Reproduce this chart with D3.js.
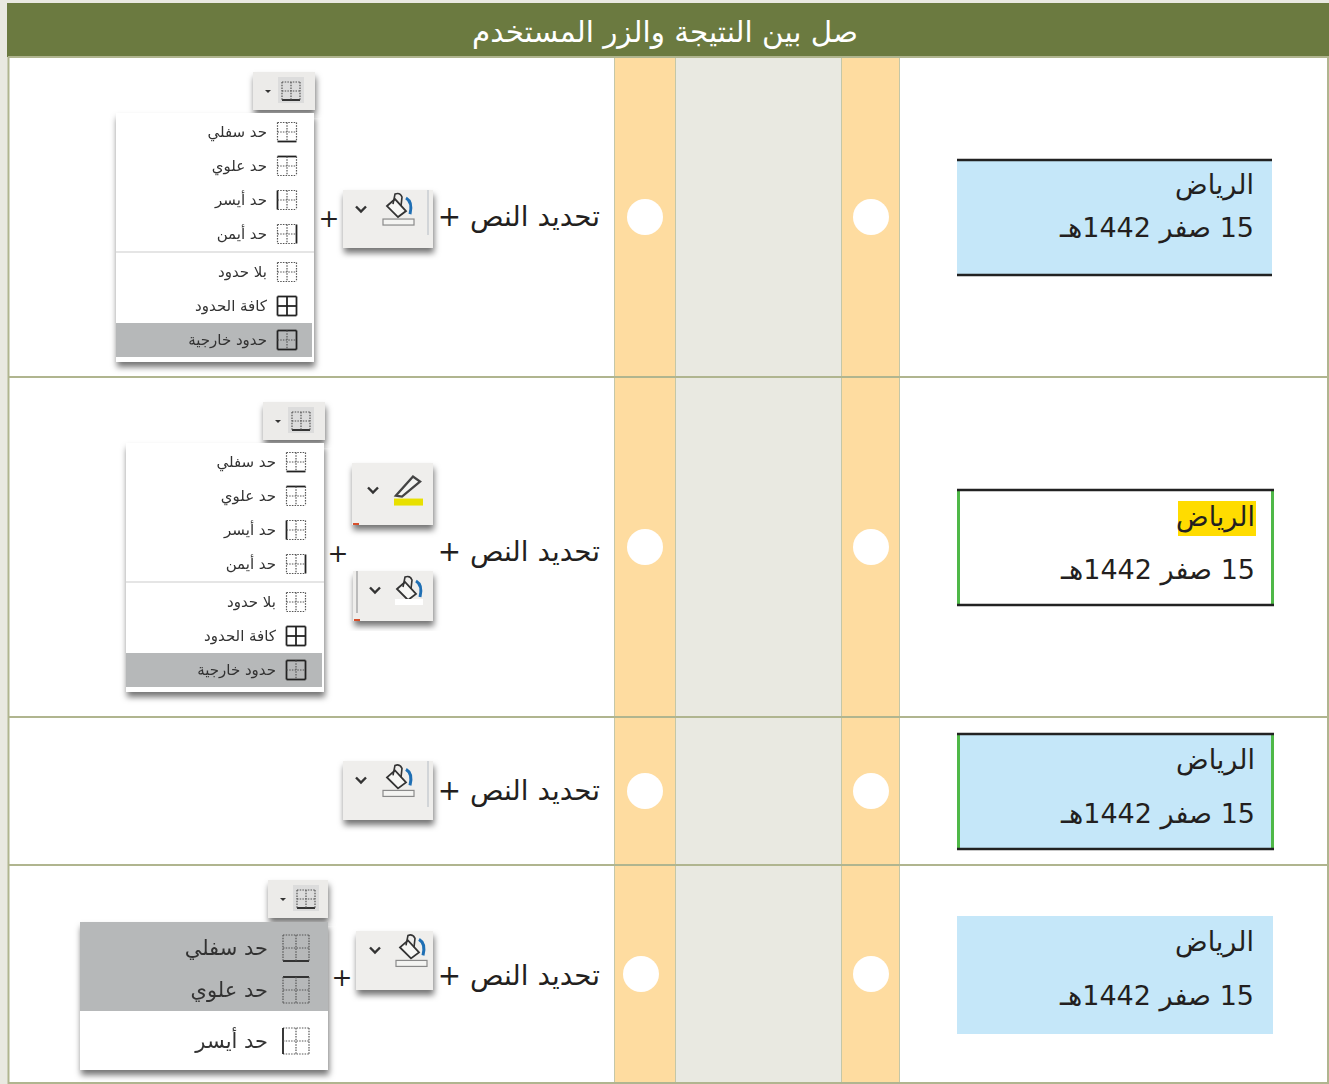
<!DOCTYPE html>
<html lang="ar">
<head>
<meta charset="utf-8">
<script src="https://cdn.jsdelivr.net/npm/d3@7/dist/d3.min.js"></script>
<style>
  html, body { margin: 0; padding: 0; background: #fff; }
  svg { display: block; }
  text { font-family: "DejaVu Sans", sans-serif; }
  .rtl { direction: rtl; text-anchor: start; }
</style>
</head>
<body>
<div id="sheet"></div>
<script>
const title = 'صل بين النتيجة والزر المستخدم';
const cities = ['الرياض', 'الرياض', 'الرياض', 'الرياض'];
const dates = ['15 صفر 1442هـ', '15 صفر 1442هـ', '15 صفر 1442هـ', '15 صفر 1442هـ'];
const stepLabels = ['تحديد النص +', 'تحديد النص +', 'تحديد النص +', 'تحديد النص +'];
const fullMenu = ['حد سفلي', 'حد علوي', 'حد أيسر', 'حد أيمن', 'بلا حدود', 'كافة الحدود', 'حدود خارجية'];
const fullMenuSides = ['bottom', 'top', 'left', 'right', 'none', 'all', 'outer'];
const shortMenu = ['حد سفلي', 'حد علوي', 'حد أيسر'];
const shortMenuSides = ['bottom', 'top', 'left'];

const W = 1329, H = 1084;
const rowEdges = [57, 377, 717, 865, 1083];

const svg = d3.select('#sheet').append('svg')
  .attr('width', W)
  .attr('height', H)
  .attr('viewBox', `0 0 ${W} ${H}`);

const defs = svg.append('defs');
const shadow = defs.append('filter').attr('id', 'shadow')
  .attr('x', '-15%').attr('y', '-15%').attr('width', '130%').attr('height', '135%');
shadow.append('feDropShadow')
  .attr('dx', 1).attr('dy', 5).attr('stdDeviation', 3.2)
  .attr('flood-color', '#000').attr('flood-opacity', 0.55);
const soft = defs.append('filter').attr('id', 'soft');
soft.append('feGaussianBlur').attr('stdDeviation', 0.4);

// page and columns
svg.append('rect').attr('width', W).attr('height', H).attr('fill', '#e9e9e1');
svg.append('rect').attr('x', 8).attr('y', 57).attr('width', W - 8).attr('height', H - 58).attr('fill', '#fff');
svg.append('rect').attr('x', 7).attr('y', 3).attr('width', W - 7).attr('height', 54).attr('fill', '#6b7a40');

const columns = [
  { x: 615, w: 60, fill: '#fedca0' },
  { x: 675, w: 166, fill: '#e9e9e1' },
  { x: 841, w: 58, fill: '#fedca0' }
];
svg.selectAll('.col').data(columns).enter().append('rect')
  .attr('class', 'col')
  .attr('x', d => d.x).attr('y', 57)
  .attr('width', d => d.w).attr('height', H - 58)
  .attr('fill', d => d.fill);

svg.selectAll('.vline').data([614.5, 675.5, 841.5, 899.5]).enter().append('line')
  .attr('class', 'vline')
  .attr('x1', d => d).attr('x2', d => d)
  .attr('y1', 57).attr('y2', H)
  .attr('stroke', '#c4c7a8').attr('stroke-width', 1);

svg.selectAll('.hline').data(rowEdges).enter().append('line')
  .attr('class', 'hline')
  .attr('x1', 8).attr('x2', W)
  .attr('y1', d => d).attr('y2', d => d)
  .attr('stroke', '#b0b58f').attr('stroke-width', 2);
svg.selectAll('.edge').data([8.5, 1328]).enter().append('line')
  .attr('class', 'edge')
  .attr('x1', d => d).attr('x2', d => d).attr('y1', 57).attr('y2', H)
  .attr('stroke', '#b0b58f').attr('stroke-width', 2);

svg.append('text').attr('class', 'rtl')
  .attr('x', 858).attr('y', 42)
  .attr('font-size', 29.4).attr('fill', '#fff')
  .text(title);

// the date cards, right hand column
const cards = [
  { y: 160, h: 115, w: 315, fill: '#c5e7f9', dark: true, green: false, textX: 1254, cityY: 194, dateY: 237 },
  { y: 490, h: 115, w: 317, fill: '#fff', dark: true, green: true, mark: true, textX: 1255, cityY: 526, dateY: 579 },
  { y: 734, h: 115, w: 317, fill: '#c5e7f9', dark: true, green: true, textX: 1255, cityY: 769, dateY: 823 },
  { y: 916, h: 118, w: 316, fill: '#c5e7f9', dark: false, green: false, textX: 1254, cityY: 951, dateY: 1005 }
];

cards.forEach((c, i) => {
  const g = svg.append('g').attr('class', 'card');
  g.append('rect').attr('x', 957).attr('y', c.y).attr('width', c.w).attr('height', c.h).attr('fill', c.fill);
  if (c.green) {
    [958.5, 955.5 + c.w].forEach(x => {
      g.append('line').attr('x1', x).attr('x2', x).attr('y1', c.y).attr('y2', c.y + c.h)
        .attr('stroke', '#4fb848').attr('stroke-width', 3);
    });
  }
  if (c.dark) {
    [c.y, c.y + c.h].forEach(y => {
      g.append('line').attr('x1', 957).attr('x2', 957 + c.w).attr('y1', y).attr('y2', y)
        .attr('stroke', '#222').attr('stroke-width', 2.5);
    });
  }
  if (c.mark) {
    g.append('rect').attr('x', 1178).attr('y', 501).attr('width', 78).attr('height', 35).attr('fill', '#ffdc00');
  }
  g.append('text').attr('class', 'rtl')
    .attr('x', c.textX).attr('y', c.cityY)
    .attr('font-size', 27).attr('fill', '#231f20')
    .text(cities[i]);
  g.append('text').attr('class', 'rtl')
    .attr('x', c.textX).attr('y', c.dateY)
    .attr('font-size', 27).attr('fill', '#231f20')
    .text(dates[i]);
});

// answer dots
const dots = [
  { x: 645, y: 217 }, { x: 871, y: 217 },
  { x: 645, y: 547 }, { x: 871, y: 547 },
  { x: 645, y: 791 }, { x: 871, y: 791 },
  { x: 641, y: 974 }, { x: 871, y: 974 }
];
svg.selectAll('.dot').data(dots).enter().append('circle')
  .attr('class', 'dot')
  .attr('cx', d => d.x).attr('cy', d => d.y).attr('r', 18)
  .attr('fill', '#fff');

// step text
const stepY = [226, 561, 800, 985];
svg.selectAll('.step').data(stepLabels).enter().append('text')
  .attr('class', 'step rtl')
  .attr('x', 600)
  .attr('y', (d, i) => stepY[i])
  .attr('font-size', 27.8).attr('fill', '#231f20')
  .text(d => d);

function plus(x, y) {
  svg.append('text').attr('x', x).attr('y', y)
    .attr('text-anchor', 'middle')
    .attr('font-size', 25).attr('fill', '#231f20')
    .text('+');
}

function chevron(g, x, y, size) {
  g.append('path')
    .attr('d', `M${x - size} ${y - size * 0.5} L ${x} ${y + size * 0.5} L ${x + size} ${y - size * 0.5}`)
    .attr('fill', 'none').attr('stroke', '#333').attr('stroke-width', 2.4);
}

function bucket(g, x, y) {
  g.append('path')
    .attr('d', `M${x + 8} ${y - 13} Q ${x + 15} ${y - 9} ${x + 12} ${y + 3}`)
    .attr('fill', 'none').attr('stroke', '#1f6fb4').attr('stroke-width', 3);
  g.append('path')
    .attr('d', `M${x - 11} ${y - 5} L ${x - 3} ${y - 12} L ${x + 8} ${y} L ${x} ${y + 6} Z`)
    .attr('fill', '#f7f7f5').attr('stroke', '#333').attr('stroke-width', 1.8);
  // handle
  g.append('path')
    .attr('d', `M${x - 5} ${y - 7} L ${x - 3} ${y - 17} Q ${x + 2} ${y - 19} ${x + 4} ${y - 14} L ${x + 3} ${y - 5}`)
    .attr('fill', 'none').attr('stroke', '#333').attr('stroke-width', 1.6);
}

function fillButton(x, y, w, h, opt) {
  opt = opt || {};
  const g = svg.append('g');
  g.append('rect').attr('x', x).attr('y', y).attr('width', w).attr('height', h)
    .attr('fill', '#efeeec').attr('filter', 'url(#shadow)');
  const ix = x + 55;
  const iy = y + h * 0.38;
  chevron(g, x + 18 + (opt.shift || 0), y + (opt.highlighter ? 27 : 19), 5);
  if (opt.highlighter) {
    g.append('path')
      .attr('d', `M${ix - 11} ${iy + 9} L ${ix + 6} ${iy - 10} L ${ix + 13} ${iy - 5} L ${ix - 5} ${iy + 10} Z`)
      .attr('fill', '#f4f4f2').attr('stroke', '#444').attr('stroke-width', 2.4);
    g.append('rect').attr('x', ix - 13).attr('y', iy + 12).attr('width', 29).attr('height', 7).attr('fill', '#e8e000');
  } else if (opt.whiteBar) {
    bucket(g, ix, iy + 4);
    g.append('rect').attr('x', ix - 13).attr('y', iy + 9).attr('width', 28).attr('height', 6).attr('fill', '#fff');
  } else {
    bucket(g, ix, iy - 1);
    g.append('rect').attr('x', ix - 15).attr('y', iy + 7).attr('width', 31).attr('height', 6)
      .attr('fill', '#f4f4f2').attr('stroke', '#8a8a8a').attr('stroke-width', 1.2);
  }
  if (opt.divider) {
    g.append('line').attr('x1', x + 4).attr('x2', x + 4).attr('y1', y).attr('y2', y + h - 8)
      .attr('stroke', '#bbb').attr('stroke-width', 2);
  }
  if (opt.rightRule) {
    g.append('line').attr('x1', x + w - 5).attr('x2', x + w - 5).attr('y1', y).attr('y2', y + h - 13)
      .attr('stroke', '#c9cdd2').attr('stroke-width', 1.5);
  }
  if (opt.redMark) {
    g.append('rect').attr('x', x + 1).attr('y', y + h - 2).attr('width', 6).attr('height', 2).attr('fill', '#d8502c');
  }
}

// small table-border glyph, one or more sides solid and the rest dotted
function gridIcon(g, cx, cy, size, side) {
  const s = size / 2;
  const lines = [
    { k: 'top', a: [cx - s, cy - s, cx + s, cy - s] },
    { k: 'bottom', a: [cx - s, cy + s, cx + s, cy + s] },
    { k: 'left', a: [cx - s, cy - s, cx - s, cy + s] },
    { k: 'right', a: [cx + s, cy - s, cx + s, cy + s] },
    { k: 'inner', a: [cx, cy - s, cx, cy + s] },
    { k: 'inner', a: [cx - s, cy, cx + s, cy] }
  ];
  lines.forEach(l => {
    const solid = side === 'all' || l.k === side || (side === 'outer' && l.k !== 'inner');
    g.append('line')
      .attr('x1', l.a[0]).attr('y1', l.a[1]).attr('x2', l.a[2]).attr('y2', l.a[3])
      .attr('stroke', solid ? '#222' : '#555')
      .attr('stroke-width', solid ? 1.8 : 1.2)
      .attr('stroke-dasharray', solid ? null : '1.5 1.2');
  });
}

function topButton(x, y, w, h) {
  const g = svg.append('g');
  g.append('rect').attr('x', x).attr('y', y).attr('width', w).attr('height', h)
    .attr('fill', '#ecebe9').attr('filter', 'url(#shadow)');
  g.append('rect').attr('x', x + 25).attr('y', y + 5).attr('width', 26).attr('height', h - 12).attr('fill', '#dcdcdc');
  gridIcon(g, x + 38, y + 19, 18, 'bottom');
  g.append('path')
    .attr('d', `M${x + 12} ${y + 18} l 6 0 l -3 3 z`)
    .attr('fill', '#333');
}

function menu(m) {
  const g = svg.append('g');
  g.append('rect').attr('x', m.x).attr('y', m.y).attr('width', m.w).attr('height', m.h)
    .attr('fill', '#fff').attr('filter', 'url(#shadow)');
  const y = d3.scaleLinear().domain(m.domain).range(m.range);
  g.append('rect')
    .attr('x', m.x).attr('y', m.y + m.hiTop)
    .attr('width', m.hiW).attr('height', m.hiH)
    .attr('fill', '#b6b8b9');
  if (m.sep) {
    g.append('line').attr('x1', m.x).attr('x2', m.x + m.w)
      .attr('y1', m.y + m.sep).attr('y2', m.y + m.sep)
      .attr('stroke', '#ddd').attr('stroke-width', 1.5);
  }
  const items = g.append('g').attr('filter', 'url(#soft)');
  m.labels.forEach((label, i) => {
    gridIcon(items, m.iconX, m.y + y(i), m.iconSize, m.sides[i]);
    items.append('text').attr('class', 'rtl')
      .attr('x', m.textX)
      .attr('y', m.y + y(i) + m.fontSize * 0.35)
      .attr('font-size', m.fontSize).attr('fill', '#333')
      .text(label);
  });
}

const fullDomain = [0, 3, 4, 6];
const fullRange = [19, 121, 159, 227];

// row 1
topButton(253, 72, 62, 38);
menu({ x: 116, y: 113, w: 198, h: 249, domain: fullDomain, range: fullRange, hiTop: 210, hiW: 196, hiH: 34, sep: 139,
  labels: fullMenu, sides: fullMenuSides, iconX: 287, iconSize: 19, textX: 267, fontSize: 15 });
plus(329, 227);
fillButton(343, 190, 90, 58, { rightRule: true });

// row 2
topButton(263, 402, 62, 38);
menu({ x: 126, y: 443, w: 198, h: 249, domain: fullDomain, range: fullRange, hiTop: 210, hiW: 196, hiH: 34, sep: 139,
  labels: fullMenu, sides: fullMenuSides, iconX: 296, iconSize: 19, textX: 276, fontSize: 15 });
plus(338, 562);
fillButton(352, 463, 81, 62, { highlighter: true, redMark: true, shift: 3 });
fillButton(353, 571, 80, 50, { whiteBar: true, divider: true, redMark: true, shift: 4 });

// row 3
fillButton(343, 761, 90, 59, { rightRule: true });

// row 4
topButton(268, 880, 60, 38);
menu({ x: 80, y: 922, w: 248, h: 148, domain: [0, 1, 2], range: [26, 68, 119], hiTop: 0, hiW: 248, hiH: 89,
  labels: shortMenu, sides: shortMenuSides, iconX: 296, iconSize: 26, textX: 268, fontSize: 21 });
plus(342, 986);
fillButton(356, 931, 77, 59, { shift: 1 });
</script>
</body>
</html>
